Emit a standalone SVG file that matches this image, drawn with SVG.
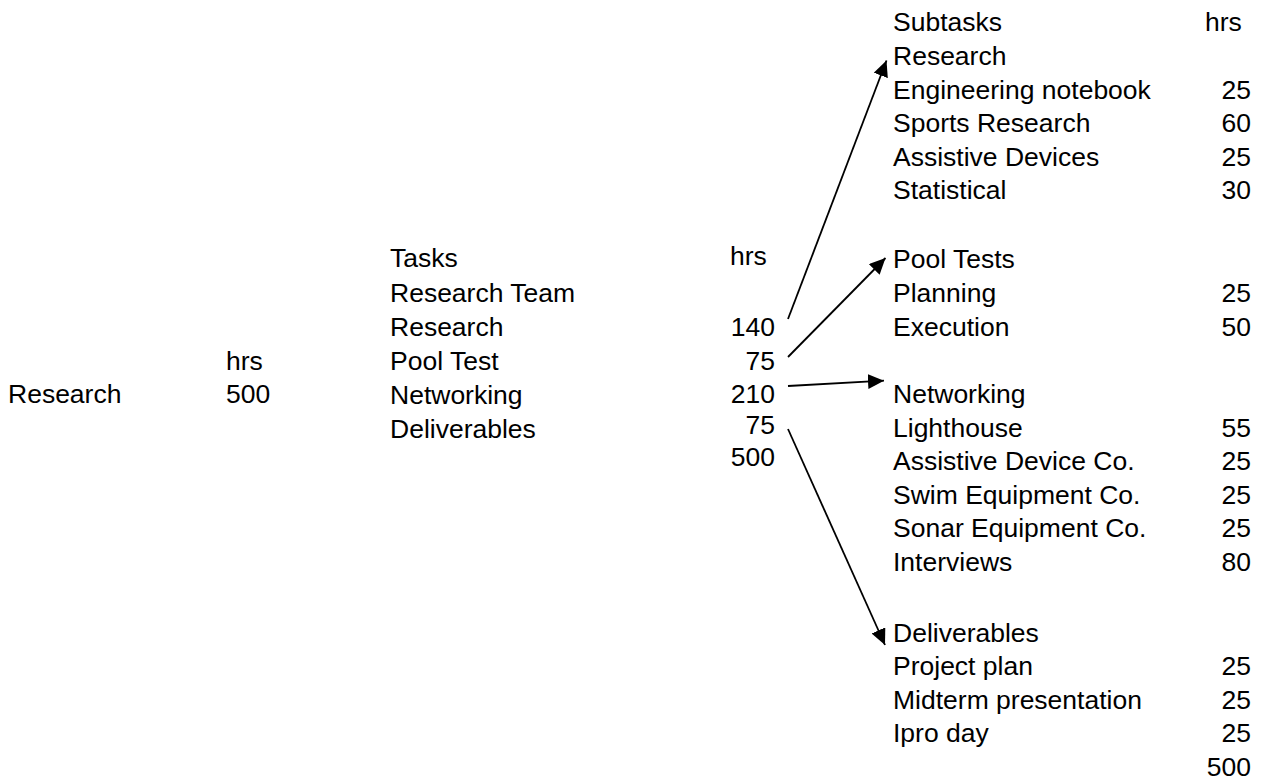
<svg xmlns="http://www.w3.org/2000/svg" width="1267" height="780" viewBox="0 0 1267 780">
<style>
text{font-family:"Liberation Sans",Arial,sans-serif;font-size:26.5px;fill:#000}
.n{text-anchor:end}
.c{stroke:#000;stroke-width:1.8;fill:none}
</style>
<defs>
<marker id="ah" markerUnits="userSpaceOnUse" markerWidth="18" markerHeight="16" refX="16" refY="7.5" orient="auto">
<path d="M0,0 L16,7.5 L0,15 z" fill="#000"/>
</marker>
</defs>
<rect width="1267" height="780" fill="#fff"/>
<g id="root">
<text x="8" y="403">Research</text>
<text x="226" y="370">hrs</text>
<text x="226" y="403">500</text>
</g>
<g id="tasks">
<text x="390" y="267">Tasks</text>
<text x="390" y="302">Research Team</text>
<text x="390" y="336">Research</text>
<text x="390" y="370">Pool Test</text>
<text x="390" y="404">Networking</text>
<text x="390" y="438">Deliverables</text>
<text x="730" y="265">hrs</text>
<text class="n" x="775" y="336">140</text>
<text class="n" x="775" y="370">75</text>
<text class="n" x="775" y="403">210</text>
<text class="n" x="775" y="434">75</text>
<text class="n" x="775" y="466">500</text>
</g>
<g id="sub-research">
<text x="893" y="31">Subtasks</text>
<text x="1205" y="31">hrs</text>
<text x="893" y="65">Research</text>
<text x="893" y="98.5">Engineering notebook</text>
<text class="n" x="1251" y="98.5">25</text>
<text x="893" y="132">Sports Research</text>
<text class="n" x="1251" y="132">60</text>
<text x="893" y="165.5">Assistive Devices</text>
<text class="n" x="1251" y="165.5">25</text>
<text x="893" y="199">Statistical</text>
<text class="n" x="1251" y="199">30</text>
</g>
<g id="sub-pool">
<text x="893" y="268">Pool Tests</text>
<text x="893" y="302">Planning</text>
<text class="n" x="1251" y="302">25</text>
<text x="893" y="336">Execution</text>
<text class="n" x="1251" y="336">50</text>
</g>
<g id="sub-networking">
<text x="893" y="403">Networking</text>
<text x="893" y="436.5">Lighthouse</text>
<text class="n" x="1251" y="436.5">55</text>
<text x="893" y="470">Assistive Device Co.</text>
<text class="n" x="1251" y="470">25</text>
<text x="893" y="503.5">Swim Equipment Co.</text>
<text class="n" x="1251" y="503.5">25</text>
<text x="893" y="537">Sonar Equipment Co.</text>
<text class="n" x="1251" y="537">25</text>
<text x="893" y="570.5">Interviews</text>
<text class="n" x="1251" y="570.5">80</text>
</g>
<g id="sub-deliverables">
<text x="893" y="641.5">Deliverables</text>
<text x="893" y="675">Project plan</text>
<text class="n" x="1251" y="675">25</text>
<text x="893" y="708.5">Midterm presentation</text>
<text class="n" x="1251" y="708.5">25</text>
<text x="893" y="742">Ipro day</text>
<text class="n" x="1251" y="742">25</text>
<text class="n" x="1251" y="775.5">500</text>
</g>
<g id="connectors">
<line class="c" x1="788" y1="319" x2="886.5" y2="60.5" marker-end="url(#ah)"/>
<line class="c" x1="788" y1="357" x2="885.5" y2="258" marker-end="url(#ah)"/>
<line class="c" x1="788" y1="386" x2="884" y2="380.7" marker-end="url(#ah)"/>
<line class="c" x1="788" y1="429" x2="885" y2="645" marker-end="url(#ah)"/>
</g>
</svg>
